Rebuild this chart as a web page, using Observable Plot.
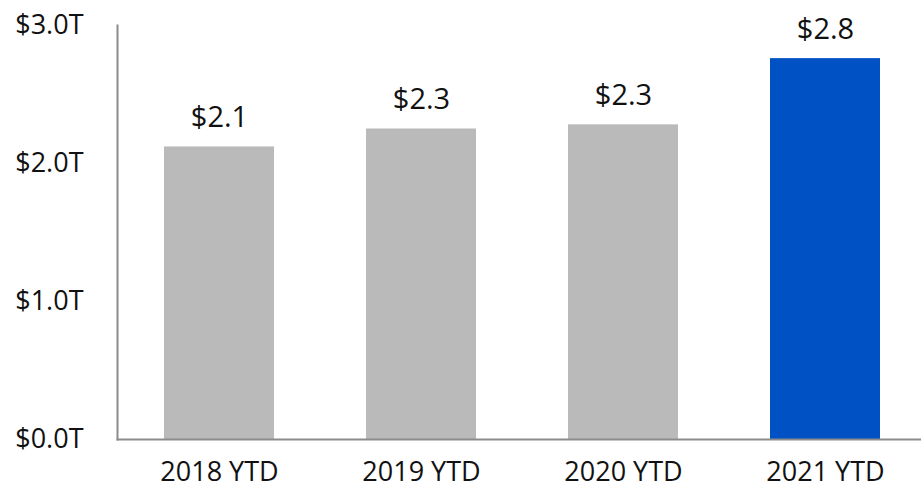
<!DOCTYPE html>
<html><head><meta charset="utf-8">
<script src="https://cdn.jsdelivr.net/npm/d3@7"></script>
<script src="https://cdn.jsdelivr.net/npm/@observablehq/plot@0.6"></script>
<style>body{margin:0;background:#fff}</style>
</head><body><div id="chart"></div>
<script>
const categories = ["2018 YTD", "2019 YTD", "2020 YTD", "2021 YTD"];
const values = [2.12, 2.25, 2.28, 2.76];
const valueLabels = ["$2.1", "$2.3", "$2.3", "$2.8"];
const barColors = ["#bababa", "#bababa", "#bababa", "#0052c4"];
const yTicks = [0, 1, 2, 3];

const data = categories.map((c, i) => ({cat: c, value: values[i], label: valueLabels[i], color: barColors[i]}));

const chart = Plot.plot({
  width: 921, height: 490,
  marginLeft: 117, marginRight: 1, marginTop: 25, marginBottom: 51,
  x: {domain: categories, paddingInner: 0.456, paddingOuter: 0.213, align: 0.534, label: null},
  y: {domain: [0, 3], label: null},
  style: {fontFamily: "'Open Sans', sans-serif", background: "#fff", color: "#111"},
  marks: [
    Plot.barY(data, {x: "cat", y: "value", fill: "color"}),
    Plot.text(data, {x: "cat", y: "value", text: "label", dy: -29, fontSize: 29, fill: "#111"}),
    Plot.axisY(yTicks, {tickSize: 0, tickPadding: 34, fontSize: 27, fill: "#111", tickFormat: d => `$${d.toFixed(1)}T`}),
    Plot.axisX({tickSize: 0, tickPadding: 22, fontSize: 27, fill: "#111"}),
    Plot.frame({anchor: "left", stroke: "#8c8c8c", strokeWidth: 2}),
    Plot.frame({anchor: "bottom", stroke: "#8c8c8c", strokeWidth: 2})
  ]
});
document.getElementById("chart").appendChild(chart);
</script>
</body></html>
